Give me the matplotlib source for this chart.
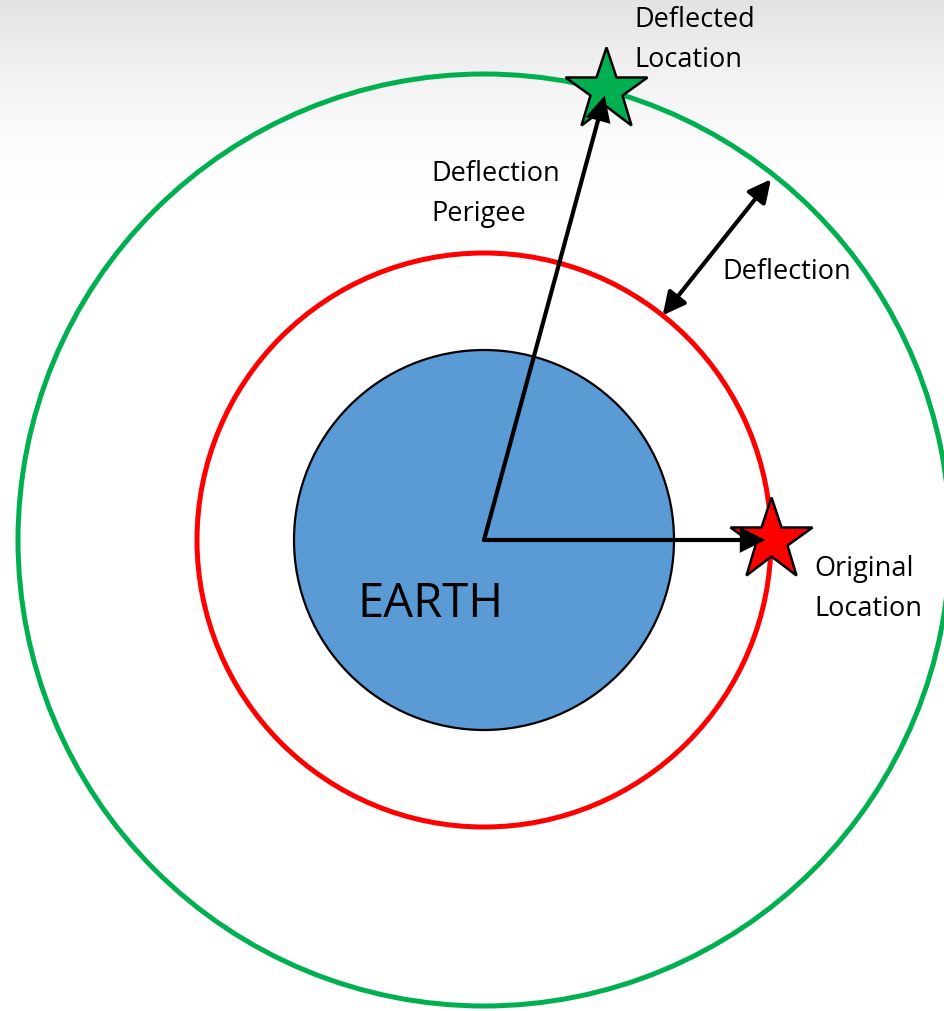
import numpy as np
import matplotlib
matplotlib.use("Agg")
import matplotlib.pyplot as plt
from matplotlib.patches import Circle, FancyArrowPatch

# --- diagram data (pixel units, y down, centre of Earth at origin) ---
ring_names = ["Earth", "Original orbit", "Deflected orbit"]
ring_radii = [190, 287, 466]
ring_colors = ["#5B9BD5", "#FF0000", "#00B050"]

original_angle = 0.0        # degrees, counter-clockwise from +x
deflected_angle = 74.8
deflection_arrow_angle = 51.5

labels = {
    "deflected": "Deflected\nLocation",
    "perigee": "Deflection\nPerigee",
    "deflection": "Deflection",
    "original": "Original\nLocation",
    "earth": "EARTH",
}

W, H = 944, 1011
cx, cy = 484, 540

plt.rcParams['font.family'] = ['Open Sans', 'DejaVu Sans']

fig = plt.figure(figsize=(W / 100, H / 100), dpi=100)
ax = fig.add_axes([0, 0, 1, 1])
ax.set_xlim(0, W)
ax.set_ylim(H, 0)
ax.set_aspect('equal')
ax.axis('off')

# grey fade at the top
t = np.linspace(0, 1, 200)
shade = 1.0 - 0.11 * (1 - t) ** 1.6
grad = shade[:, None] * np.ones((1, 2))
ax.imshow(np.dstack([grad, grad, grad]), extent=(0, W, 200, 0), aspect='auto',
          zorder=0, interpolation='bilinear')


def polar(r, ang):
    a = np.deg2rad(ang)
    return cx + r * np.cos(a), cy - r * np.sin(a)


# Earth and orbits
ax.add_patch(Circle((cx, cy), ring_radii[0], facecolor=ring_colors[0],
                    edgecolor='black', linewidth=1.6, zorder=2))
for r, c in zip(ring_radii[1:], ring_colors[1:]):
    ax.add_patch(Circle((cx, cy), r, facecolor='none', edgecolor=c,
                        linewidth=3.6, zorder=2))

# radius arrows
orig_xy = polar(ring_radii[1], original_angle)
defl_xy = polar(ring_radii[2], deflected_angle)
for end in [orig_xy, defl_xy]:
    ax.add_patch(FancyArrowPatch((cx, cy), end, arrowstyle='-|>,head_length=8,head_width=4',
                                 mutation_scale=1.7, color='black', linewidth=3,
                                 shrinkA=0, shrinkB=4, zorder=4, joinstyle='miter'))

# stars
ax.plot(*orig_xy, marker='*', markersize=62, markerfacecolor='#FF0000',
        markeredgecolor='black', markeredgewidth=1.8, zorder=3)
ax.plot(*defl_xy, marker='*', markersize=62, markerfacecolor='#00B050',
        markeredgecolor='black', markeredgewidth=1.8, zorder=3)

# deflection double arrow
p0 = polar(ring_radii[1], deflection_arrow_angle)
p1 = polar(ring_radii[2] - 5, deflection_arrow_angle)
ax.add_patch(FancyArrowPatch(p0, p1, arrowstyle='<|-|>,head_length=8,head_width=4',
                             mutation_scale=1.7, color='black', linewidth=3,
                             shrinkA=0, shrinkB=0, zorder=4))

# text
fs = 19.5
ax.text(634, 40, labels["deflected"], fontsize=fs, ha='left', va='center', linespacing=1.6)
ax.text(431, 194, labels["perigee"], fontsize=fs, ha='left', va='center', linespacing=1.55)
ax.text(722, 272, labels["deflection"], fontsize=fs, ha='left', va='center')
ax.text(814, 589, labels["original"], fontsize=fs, ha='left', va='center', linespacing=1.55)
ax.text(357, 604, labels["earth"], fontsize=34, ha='left', va='center')

fig.savefig("out.png", dpi=100)
